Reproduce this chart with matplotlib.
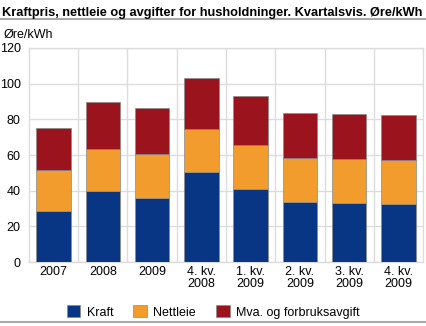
import numpy as np
import matplotlib
matplotlib.use('Agg')
import matplotlib.pyplot as plt

# Data
categories = ['2007', '2008', '2009', '4. kv.\n2008', '1. kv.\n2009',
              '2. kv.\n2009', '3. kv.\n2009', '4. kv.\n2009']
kraft = [28.6, 39.8, 35.8, 50.6, 41.1, 33.6, 33.0, 32.7]
nettleie = [23.1, 23.8, 24.5, 24.2, 24.4, 24.6, 24.5, 24.4]
mva = [23.7, 26.2, 25.9, 28.6, 27.3, 25.4, 25.4, 25.2]

plt.rcParams['font.family'] = ['Liberation Sans', 'DejaVu Sans']

fig = plt.figure(figsize=(4.26, 3.26), dpi=100)
ax = fig.add_axes([0.068, 0.196, 0.925, 0.657])

x = np.arange(len(categories))
w = 0.7
edge = dict(edgecolor='#8a8a8a', linewidth=0.5)
ax.bar(x, kraft, w, color='#083584', label='Kraft', zorder=3, **edge)
ax.bar(x, nettleie, w, bottom=kraft, color='#f39c2e', label='Nettleie', zorder=3, **edge)
bottom2 = np.array(kraft) + np.array(nettleie)
ax.bar(x, mva, w, bottom=bottom2, color='#9b141d',
       label='Mva. og forbruksavgift', zorder=3, **edge)

ax.set_xlim(-0.5, len(categories) - 0.5)
ax.set_ylim(0, 120)
ax.set_yticks(range(0, 121, 20))
ax.set_xticks(x)
ax.set_xticklabels(categories, fontsize=9, linespacing=0.95)
ax.tick_params(axis='y', labelsize=9, length=0, pad=6)
ax.tick_params(axis='x', length=0, pad=3)

# grid: horizontal at y ticks, vertical between categories
ax.set_xticks(np.arange(0.5, len(categories) - 0.5), minor=True)
ax.tick_params(axis='x', which='minor', length=0)
ax.grid(axis='y', color='#dcdcdc', linewidth=1, zorder=0)
ax.grid(axis='x', which='minor', color='#dcdcdc', linewidth=1, zorder=0)
for s in ax.spines.values():
    s.set_color('#dcdcdc')
    s.set_linewidth(1)

fig.text(0.005, 0.978, 'Kraftpris, nettleie og avgifter for husholdninger. Kvartalsvis. Øre/kWh',
         fontsize=9.2, fontweight='bold', va='top', ha='left')
fig.add_artist(plt.Line2D([0.0, 1.0], [0.942, 0.942], color='#aaaaaa', linewidth=1.5))
fig.add_artist(plt.Line2D([0.0, 1.0], [0.012, 0.012], color='#aaaaaa', linewidth=1.5))
fig.text(0.008, 0.893, 'Øre/kWh', fontsize=9, va='center', ha='left')

fig.legend(loc='center', bbox_to_anchor=(0.5, 0.043), ncol=3, frameon=False,
           fontsize=9, handlelength=1.1, handleheight=1.1, columnspacing=1.6,
           handletextpad=0.5)

fig.savefig('out.png', dpi=100)
